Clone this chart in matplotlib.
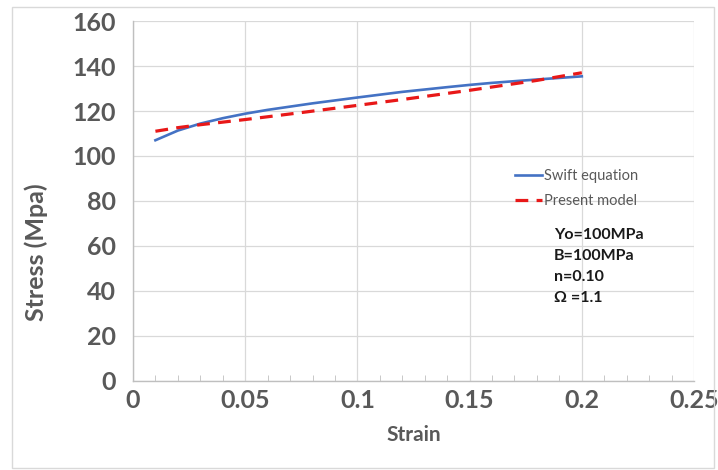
import matplotlib
matplotlib.use("Agg")
import matplotlib.pyplot as plt
from matplotlib.patches import Rectangle

plt.rcParams['font.family'] = ['Lato', 'DejaVu Sans']

# swift equation curve
swift_strain = [0.01, 0.02, 0.03, 0.04, 0.05, 0.06, 0.08, 0.10, 0.12, 0.14, 0.15, 0.16, 0.18, 0.20]
swift_stress = [107.0, 111.3, 114.4, 116.8, 118.8, 120.5, 123.4, 126.0, 128.5, 130.6, 131.6, 132.5, 134.0, 135.4]

# present model curve
model_strain = [0.01, 0.02, 0.03, 0.05, 0.075, 0.10, 0.12, 0.15, 0.18, 0.20]
model_stress = [111.0, 112.6, 113.9, 116.2, 119.3, 122.5, 125.1, 129.2, 133.6, 137.0]

params = ["Yo=100MPa", "B=100MPa", "n=0.10", "\u03a9 =1.1"]

x_ticks = [0, 0.05, 0.1, 0.15, 0.2, 0.25]
x_labels = ["0", "0.05", "0.1", "0.15", "0.2", "0.25"]
y_ticks = list(range(0, 161, 20))

fig = plt.figure(figsize=(7.18, 4.70), dpi=100)
ax = fig.add_axes([0.1852, 0.1894, 0.7814, 0.7659])

txt = '#595959'
ax.plot(swift_strain, swift_stress, color='#4472C4', lw=1.9, label='Swift equation')
ax.plot(model_strain, model_stress, color='#E81818', lw=2.3, dashes=(4, 2.6), label='Present model')

ax.set_xlim(0, 0.25)
ax.set_ylim(0, 160)
ax.set_xticks(x_ticks)
ax.set_xticklabels(x_labels)
ax.set_yticks(y_ticks)
ax.set_xticks([i * 0.01 for i in range(26)], minor=True)
ax.grid(True, which='major', color='#d9d9d9', lw=0.9)
ax.set_axisbelow(True)
for s in ['top', 'right']:
    ax.spines[s].set_visible(False)
for s in ['left', 'bottom']:
    ax.spines[s].set_color('#bfbfbf')
    ax.spines[s].set_linewidth(1.0)
ax.tick_params(axis='both', which='major', length=0, labelsize=18, labelcolor=txt, pad=12)
ax.tick_params(axis='x', which='major', pad=6)
ax.tick_params(axis='x', which='minor', direction='in', length=4, color='#bfbfbf')
for lab in ax.get_xticklabels() + ax.get_yticklabels():
    lab.set_fontweight('bold')

ax.set_xlabel('Strain', fontsize=15, fontweight='bold', color=txt, labelpad=9)
# excel puts the y title a bit below the middle
fig.text(36 / 718, 1 - 252 / 470, 'Stress (Mpa)', rotation=90, fontsize=18,
         fontweight='bold', color=txt, ha='center', va='center')

leg = ax.legend(loc='upper left', bbox_to_anchor=(0.671, 0.605), frameon=False,
                fontsize=10.5, handlelength=1.8, labelspacing=0.75, handletextpad=0.15,
                borderaxespad=0)
for t in leg.get_texts():
    t.set_color('#595959')

for i, p in enumerate(params):
    fig.text(554 / 718, 1 - (235 + i * 21) / 470, p, fontsize=11.5, fontweight='bold',
             color='#1a1a1a', va='center', ha='left')

fig.patches.append(Rectangle((12 / 718, 2 / 470), 702 / 718, 461 / 470,
                             transform=fig.transFigure, fill=False,
                             edgecolor='#d9d9d9', lw=1.0))

fig.savefig('out.png', dpi=100)
